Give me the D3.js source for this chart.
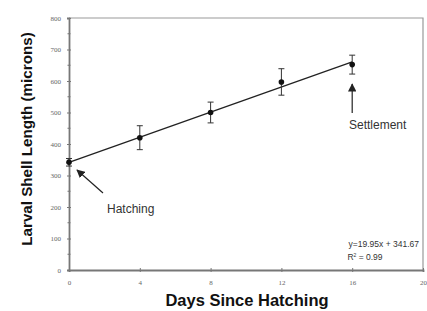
<!DOCTYPE html>
<html><head><meta charset="utf-8">
<script src="https://cdn.jsdelivr.net/npm/d3@7"></script>
<style>body{margin:0;background:#fff}</style>
</head><body>
<svg id="c" width="427" height="311"></svg>
<script>
const days = [0, 4, 8, 12, 16];
const lengths = [342, 420, 500, 597, 652];
const errors = [12, 38, 33, 42, 30];
const xTicks = [0, 4, 8, 12, 16, 20];
const yTicks = [0, 100, 200, 300, 400, 500, 600, 700, 800];
const slope = 19.95, intercept = 341.67;

const svg = d3.select("#c");
const x = d3.scaleLinear().domain([0, 20]).range([69, 423]);
const y = d3.scaleLinear().domain([0, 800]).range([270, 18]);
const axisCol = "#777";

// frame top/right
svg.append("path").attr("d", `M${x(0)},${y(800)}H${x(20)}V${y(0)}`)
  .attr("fill", "none").attr("stroke", "#999").attr("stroke-width", 1.2);

// y axis
const ya = svg.append("g").attr("transform", `translate(${x(0)},0)`)
  .call(d3.axisLeft(y).tickValues(yTicks).tickSize(2).tickPadding(6));
ya.select(".domain").attr("stroke", axisCol).attr("stroke-width", 1.8);
ya.selectAll(".tick line").attr("stroke", axisCol).attr("x2", 2).attr("x1", -2);
ya.selectAll("text").attr("font-family", "Liberation Serif").attr("font-size", 7).attr("fill", "#666");
// minor y ticks
svg.append("g").selectAll("line").data(d3.range(50, 800, 100)).join("line")
  .attr("x1", x(0) - 1.5).attr("x2", x(0) + 1.5).attr("y1", d => y(d)).attr("y2", d => y(d))
  .attr("stroke", axisCol);

// x axis
const xa = svg.append("g").attr("transform", `translate(0,${y(0)})`)
  .call(d3.axisBottom(x).tickValues(xTicks).tickSize(2).tickPadding(8));
xa.select(".domain").attr("stroke", axisCol).attr("stroke-width", 1.8);
xa.selectAll(".tick line").attr("stroke", axisCol).attr("y1", -2).attr("y2", 2);
xa.selectAll("text").attr("font-family", "Liberation Serif").attr("font-size", 7).attr("fill", "#666");

// regression line
svg.append("line").attr("x1", x(0)).attr("y1", y(intercept))
  .attr("x2", x(16)).attr("y2", y(slope * 16 + intercept))
  .attr("stroke", "#222").attr("stroke-width", 1.3);

// error bars
const eb = svg.append("g").attr("stroke", "#333").attr("stroke-width", 1);
days.forEach((d, i) => {
  const cx = x(d), t = y(lengths[i] + errors[i]), b = y(lengths[i] - errors[i]);
  eb.append("line").attr("x1", cx).attr("x2", cx).attr("y1", t).attr("y2", b);
  eb.append("line").attr("x1", cx - 3).attr("x2", cx + 3).attr("y1", t).attr("y2", t);
  eb.append("line").attr("x1", cx - 3).attr("x2", cx + 3).attr("y1", b).attr("y2", b);
});
svg.append("g").selectAll("circle").data(days).join("circle")
  .attr("cx", d => x(d)).attr("cy", (d, i) => y(lengths[i])).attr("r", 2.8).attr("fill", "#111");

// arrows
const defs = svg.append("defs");
defs.append("marker").attr("id", "ah").attr("viewBox", "0 0 10 10").attr("refX", 9).attr("refY", 5)
  .attr("markerWidth", 7).attr("markerHeight", 7).attr("orient", "auto")
  .append("path").attr("d", "M0,0L10,5L0,10z").attr("fill", "#222");
svg.append("line").attr("x1", 103).attr("y1", 193).attr("x2", 77).attr("y2", 170)
  .attr("stroke", "#222").attr("stroke-width", 1.2).attr("marker-end", "url(#ah)");
svg.append("line").attr("x1", x(16)).attr("y1", 113).attr("x2", x(16)).attr("y2", 84)
  .attr("stroke", "#222").attr("stroke-width", 1.2).attr("marker-end", "url(#ah)");

const lab = (t, tx, ty, fs, anchor) => svg.append("text").attr("x", tx).attr("y", ty)
  .attr("font-family", "Liberation Sans, Arial").attr("font-size", fs).attr("fill", "#333")
  .attr("text-anchor", anchor || "start").text(t);
lab("Hatching", 107, 213, 12);
lab("Settlement", 349, 129, 12);
lab("y=19.95x + 341.67", 419, 247, 8.5, "end");
const r = svg.append("text").attr("x", 365).attr("y", 260).attr("font-family", "Liberation Sans, Arial")
  .attr("font-size", 8.5).attr("fill", "#333").attr("text-anchor", "middle");
r.append("tspan").text("R");
r.append("tspan").attr("font-size", 5).attr("dy", -3).text("2");
r.append("tspan").attr("dy", 3).text(" = 0.99");

// titles
svg.append("text").attr("x", 247).attr("y", 306).attr("text-anchor", "middle")
  .attr("font-family", "Liberation Sans, Arial").attr("font-weight", "bold").attr("font-size", 16.5)
  .attr("fill", "#111").text("Days Since Hatching");
svg.append("text").attr("transform", "translate(32,139) rotate(-90)").attr("text-anchor", "middle")
  .attr("font-family", "Liberation Sans, Arial").attr("font-weight", "bold").attr("font-size", 15.2)
  .attr("fill", "#111").text("Larval Shell Length (microns)");
</script>
</body></html>
